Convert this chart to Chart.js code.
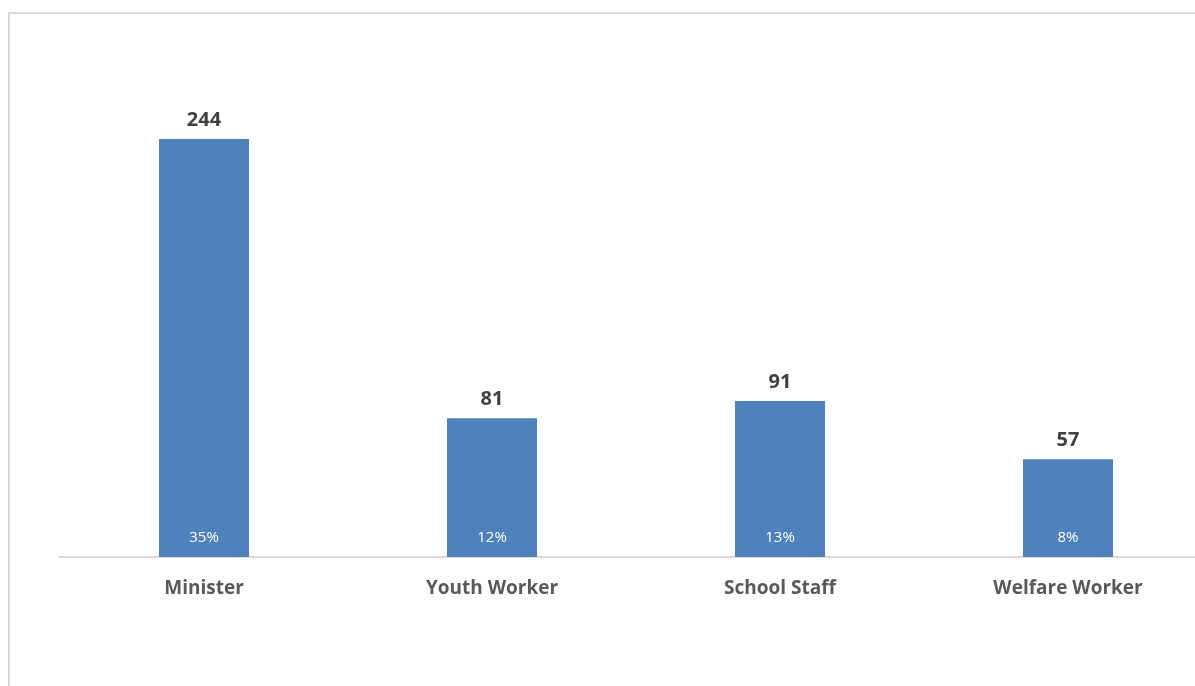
<!DOCTYPE html>
<html>
<head>
<meta charset="utf-8">
<script src="https://cdn.jsdelivr.net/npm/chart.js@4"></script>
<style>
  html, body { margin: 0; padding: 0; background: #fff; overflow: hidden; }
  #wrap {
    position: absolute; left: 8px; top: 12px;
    border: 2px solid #d9d9d9; width: 1220px; height: 700px;
  }
</style>
</head>
<body>
<div id="wrap"><canvas id="myChart" width="1220" height="700"></canvas></div>
<script>
const categories = ["Minister", "Youth Worker", "School Staff", "Welfare Worker"];
const counts = [244, 81, 91, 57];
const shares = ["35%", "12%", "13%", "8%"];

const FONT = "'Open Sans', 'Liberation Sans', sans-serif";

// draws the count above each bar and the share inside at the bottom
const barLabels = {
    id: "barLabels",
    afterDatasetsDraw(chart) {
        const c = chart.ctx;
        const meta = chart.getDatasetMeta(0);
        c.save();
        c.textAlign = "center";
        c.textBaseline = "middle";
        meta.data.forEach((bar, i) => {
            c.font = "bold 20px " + FONT;
            c.fillStyle = "#404040";
            c.fillText(counts[i], bar.x, bar.y - 19);
            c.font = "15px " + FONT;
            c.fillStyle = "#ffffff";
            c.fillText(shares[i], bar.x, bar.base - 19);
        });
        c.restore();
    }
};

const ctx = document.getElementById("myChart").getContext("2d");

const myChart = new Chart(ctx, {
    type: "bar",
    data: {
        labels: categories,
        datasets: [
            {
                data: counts,
                backgroundColor: "#4f81bd",
                barPercentage: 0.3125,
                categoryPercentage: 1
            }
        ]
    },
    options: {
        responsive: false,
        animation: false,
        layout: { padding: { left: 50, right: 18, top: 29, bottom: 0 } },
        scales: {
            x: {
                grid: { display: false },
                border: { color: "#d9d9d9", width: 2 },
                ticks: {
                    color: "#595959",
                    font: { family: FONT, size: 19, weight: "bold" },
                    padding: 12
                },
                afterFit: (scale) => { scale.height = 157; }
            },
            y: {
                display: false,
                min: 0,
                max: 300
            }
        },
        plugins: {
            legend: { display: false },
            tooltip: { enabled: false }
        }
    },
    plugins: [barLabels]
});
</script>
</body>
</html>
